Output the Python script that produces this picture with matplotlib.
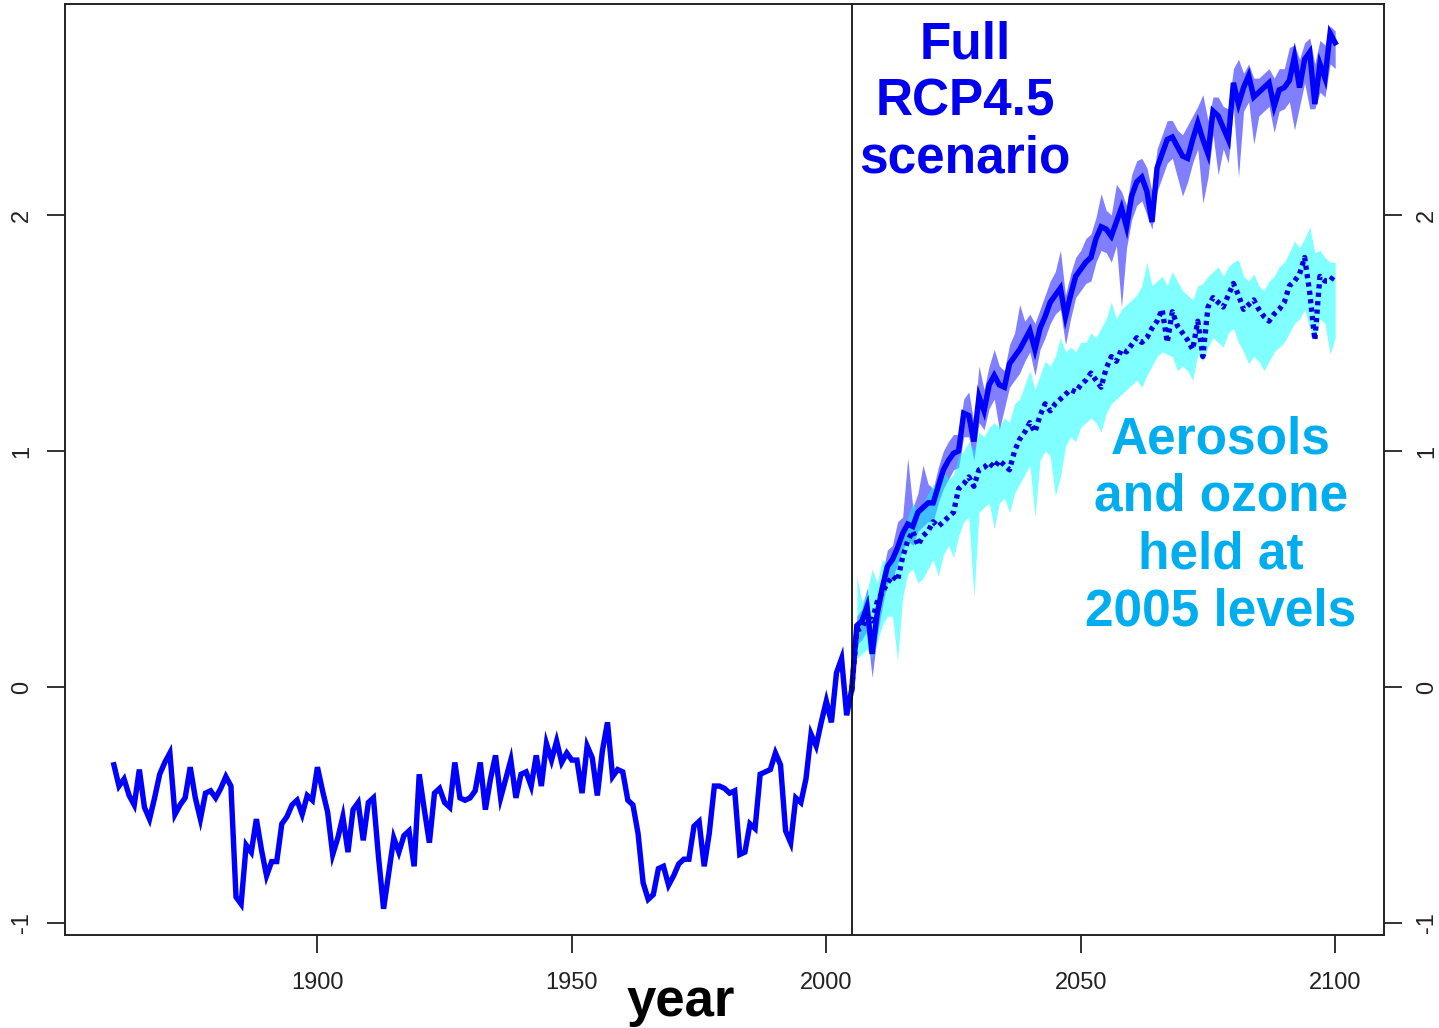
import numpy as np
import matplotlib
matplotlib.use("Agg")
import matplotlib.pyplot as plt

plt.rcParams["font.family"] = ["Liberation Sans", "DejaVu Sans"]

# observed / historical run, 1860-2005
hist_years = np.arange(1860, 2006)
hist_temp = [
    -0.33, -0.42, -0.39, -0.46, -0.50, -0.35, -0.51, -0.56, -0.47, -0.37,
    -0.32, -0.28, -0.54, -0.50, -0.47, -0.34, -0.47, -0.56, -0.45, -0.44,
    -0.47, -0.43, -0.38, -0.42, -0.89, -0.92, -0.67, -0.70, -0.56, -0.69,
    -0.80, -0.74, -0.74, -0.58, -0.55, -0.50, -0.48, -0.54, -0.46, -0.48,
    -0.34, -0.44, -0.53, -0.71, -0.64, -0.55, -0.70, -0.52, -0.49, -0.65,
    -0.49, -0.47, -0.72, -0.94, -0.79, -0.64, -0.70, -0.63, -0.61, -0.76,
    -0.37, -0.52, -0.66, -0.45, -0.43, -0.49, -0.51, -0.32, -0.47, -0.48,
    -0.47, -0.44, -0.32, -0.52, -0.39, -0.29, -0.47, -0.39, -0.31, -0.47,
    -0.37, -0.36, -0.42, -0.29, -0.42, -0.24, -0.31, -0.23, -0.32, -0.28,
    -0.31, -0.31, -0.45, -0.25, -0.30, -0.46, -0.27, -0.15, -0.38, -0.35,
    -0.36, -0.48, -0.50, -0.62, -0.83, -0.90, -0.88, -0.77, -0.76, -0.84,
    -0.80, -0.75, -0.73, -0.73, -0.59, -0.57, -0.76, -0.62, -0.42, -0.42,
    -0.43, -0.45, -0.44, -0.71, -0.70, -0.58, -0.60, -0.37, -0.36, -0.35,
    -0.28, -0.33, -0.61, -0.66, -0.47, -0.49, -0.39, -0.20, -0.25, -0.15,
    -0.06, -0.15, 0.06, 0.12, -0.12, -0.01,
]

# projections 2006-2100
proj_years = np.arange(2006, 2101)
full_mean = [
    0.26, 0.28, 0.34, 0.14, 0.31, 0.42, 0.51, 0.54, 0.59, 0.65,
    0.69, 0.68, 0.74, 0.76, 0.78, 0.78, 0.85, 0.92, 0.96, 0.99,
    1.00, 1.16, 1.15, 1.04, 1.23, 1.17, 1.28, 1.32, 1.28, 1.27,
    1.37, 1.40, 1.43, 1.47, 1.51, 1.43, 1.52, 1.57, 1.63, 1.66,
    1.69, 1.57, 1.66, 1.74, 1.77, 1.80, 1.82, 1.90, 1.95, 1.94,
    1.91, 1.97, 2.03, 1.95, 2.08, 2.14, 2.16, 2.10, 1.97, 2.20,
    2.26, 2.32, 2.33, 2.29, 2.25, 2.24, 2.32, 2.39, 2.32, 2.26,
    2.44, 2.42, 2.37, 2.32, 2.56, 2.47, 2.54, 2.59, 2.50, 2.52,
    2.54, 2.56, 2.46, 2.53, 2.54, 2.57, 2.67, 2.54, 2.66, 2.69,
    2.47, 2.64, 2.58, 2.77, 2.73,
]
full_upper = [
    0.30, 0.33, 0.42, 0.24, 0.38, 0.48, 0.58, 0.60, 0.70, 0.72,
    0.97, 0.76, 0.82, 0.94, 0.86, 0.84, 0.93, 1.00, 1.04, 1.07,
    1.07, 1.22, 1.25, 1.12, 1.36, 1.26, 1.36, 1.43, 1.36, 1.34,
    1.45, 1.50, 1.62, 1.55, 1.58, 1.54, 1.60, 1.66, 1.72, 1.76,
    1.85, 1.66, 1.75, 1.82, 1.85, 1.90, 1.92, 1.99, 2.09, 2.02,
    2.00, 2.13, 2.10, 2.04, 2.17, 2.23, 2.24, 2.20, 2.10, 2.28,
    2.34, 2.40, 2.40, 2.36, 2.34, 2.38, 2.42, 2.46, 2.51, 2.40,
    2.50, 2.50, 2.46, 2.45, 2.62, 2.66, 2.60, 2.64, 2.58, 2.58,
    2.60, 2.62, 2.58, 2.62, 2.62, 2.71, 2.72, 2.66, 2.73, 2.75,
    2.64, 2.74, 2.72, 2.80, 2.78,
]
full_lower = [
    0.18, 0.20, 0.24, 0.04, 0.22, 0.34, 0.44, 0.46, 0.52, 0.58,
    0.62, 0.60, 0.66, 0.68, 0.70, 0.70, 0.78, 0.84, 0.88, 0.92,
    0.93, 1.06, 1.06, 0.96, 1.12, 1.09, 1.18, 1.22, 1.09, 1.18,
    1.27, 1.30, 1.33, 1.38, 1.42, 1.32, 1.43, 1.48, 1.54, 1.58,
    1.60, 1.45, 1.56, 1.65, 1.68, 1.71, 1.72, 1.80, 1.85, 1.84,
    1.80, 1.87, 1.61, 1.86, 1.98, 2.04, 2.06, 2.00, 1.94, 2.10,
    2.16, 2.22, 2.24, 2.16, 2.08, 2.14, 2.22, 2.28, 2.05, 2.16,
    2.34, 2.17, 2.28, 2.22, 2.46, 2.16, 2.44, 2.48, 2.30, 2.42,
    2.44, 2.46, 2.35, 2.44, 2.45, 2.48, 2.36, 2.46, 2.56, 2.45,
    2.45, 2.52, 2.50, 2.64, 2.62,
]
aer_mean = [
    0.24, 0.25, 0.30, 0.28, 0.36, 0.40, 0.44, 0.47, 0.45, 0.55,
    0.62, 0.66, 0.60, 0.64, 0.66, 0.70, 0.68, 0.70, 0.72, 0.74,
    0.84, 0.86, 0.89, 0.85, 0.92, 0.93, 0.95, 0.93, 0.96, 0.94,
    0.92, 1.00, 1.05, 1.08, 1.12, 1.08, 1.15, 1.20, 1.17, 1.20,
    1.22, 1.24, 1.26, 1.25, 1.28, 1.30, 1.33, 1.30, 1.27, 1.35,
    1.40, 1.38, 1.43, 1.42, 1.45, 1.48, 1.46, 1.48, 1.52, 1.55,
    1.60, 1.46, 1.59, 1.53, 1.50, 1.47, 1.43, 1.55, 1.40, 1.61,
    1.65, 1.63, 1.61, 1.66, 1.71, 1.66, 1.60, 1.62, 1.64, 1.60,
    1.57, 1.55, 1.58, 1.60, 1.63, 1.70, 1.72, 1.75, 1.82, 1.67,
    1.47, 1.74, 1.72, 1.72, 1.75,
]
aer_upper = [
    0.47, 0.36, 0.40, 0.50, 0.44, 0.54, 0.52, 0.58, 0.56, 0.64,
    0.72, 0.78, 0.74, 0.78, 0.82, 0.86, 0.84, 0.92, 0.88, 0.90,
    0.98, 1.00, 1.04, 1.00, 1.08, 1.06, 1.10, 1.12, 1.10, 1.14,
    1.12, 1.20, 1.22, 1.28, 1.34, 1.26, 1.32, 1.38, 1.36, 1.40,
    1.48, 1.42, 1.44, 1.42, 1.46, 1.46, 1.50, 1.48, 1.52, 1.56,
    1.63, 1.56, 1.60, 1.62, 1.64, 1.66, 1.70, 1.80, 1.70, 1.72,
    1.74, 1.70, 1.76, 1.72, 1.68, 1.66, 1.64, 1.70, 1.71, 1.74,
    1.76, 1.78, 1.74, 1.78, 1.80, 1.81, 1.74, 1.72, 1.75, 1.70,
    1.68, 1.72, 1.74, 1.78, 1.80, 1.84, 1.89, 1.86, 1.90, 1.95,
    1.84, 1.85, 1.82, 1.80, 1.80,
]
aer_lower = [
    0.12, 0.14, 0.16, 0.12, 0.19, 0.26, 0.30, 0.30, 0.11, 0.38,
    0.48, 0.50, 0.44, 0.46, 0.50, 0.54, 0.47, 0.56, 0.60, 0.55,
    0.64, 0.70, 0.72, 0.38, 0.74, 0.76, 0.78, 0.67, 0.78, 0.80,
    0.74, 0.82, 0.86, 0.90, 0.94, 0.72, 0.96, 1.00, 0.98, 0.81,
    0.89, 1.02, 1.06, 1.04, 1.10, 1.12, 1.14, 1.12, 1.08, 1.16,
    1.20, 1.22, 1.24, 1.26, 1.28, 1.30, 1.27, 1.32, 1.36, 1.40,
    1.42, 1.41, 1.40, 1.34, 1.36, 1.34, 1.30, 1.41, 1.38, 1.44,
    1.48, 1.46, 1.44, 1.50, 1.52, 1.46, 1.42, 1.37, 1.40, 1.38,
    1.34, 1.38, 1.42, 1.44, 1.46, 1.50, 1.54, 1.56, 1.60, 1.52,
    1.47, 1.56, 1.54, 1.41, 1.48,
]

xticks = [1900, 1950, 2000, 2050, 2100]
yticks = [-1, 0, 1, 2]
split_year = 2005

fig = plt.figure(figsize=(14.39, 10.28), dpi=100)
ax = fig.add_axes([0.0452, 0.0905, 0.9166, 0.9056])

# join the projections onto the last historical year
yrs_f = np.concatenate([[hist_years[-1]], proj_years])
full_line = np.concatenate([[hist_temp[-1]], full_mean])
aer_line = np.concatenate([[hist_temp[-1]], aer_mean])

ax.fill_between(proj_years, full_lower, full_upper, color="#0000ff", alpha=0.5, lw=0)
ax.plot(hist_years, hist_temp, color="#0000ff", lw=3.9, solid_joinstyle="miter")
ax.plot(yrs_f, full_line, color="#0000ff", lw=3.9, solid_joinstyle="miter")
ax.fill_between(proj_years, aer_lower, aer_upper, color="#00ffff", alpha=0.5, lw=0)
ax.plot(yrs_f, aer_line, color="#0000dd", lw=3.8, linestyle=(0, (0.8, 0.8)))

ax.axvline(split_year, color="black", lw=1.2)

ax.set_xlim(1850.4, 2109.6)
ax.set_ylim(-1.051, 2.894)
ax.set_xticks(xticks)
ax.set_yticks(yticks)
ax.set_xticklabels([str(t) for t in xticks])
ax.set_yticklabels([str(t) for t in yticks])

ax.tick_params(axis="x", direction="out", length=13, width=1.3, pad=14,
               labelsize=17, colors="#222222")
ax.tick_params(axis="y", direction="out", length=13, width=1.3, pad=10,
               labelsize=17, colors="#222222", labelrotation=90,
               right=True, labelright=True)
for lab in ax.get_yticklabels():
    lab.set_va("center")
for sp in ax.spines.values():
    sp.set_linewidth(1.4)
    sp.set_color("#222222")

fig.text(681 / 1439, 1 - 1002 / 1028, "year", ha="center", va="center",
         fontsize=38, fontweight="bold", color="black")

full_lines = ["Full", "RCP4.5", "scenario"]
for i, s in enumerate(full_lines):
    fig.text(965 / 1439, 1 - (45 + 57 * i) / 1028, s, ha="center", va="center",
             fontsize=37, fontweight="bold", color="#0000ee")

aer_lines = ["Aerosols", "and ozone", "held at", "2005 levels"]
for i, s in enumerate(aer_lines):
    fig.text(1221 / 1439, 1 - (440 + 57.3 * i) / 1028, s, ha="center", va="center",
             fontsize=37, fontweight="bold", color="#00aeef")

fig.savefig("out.png", dpi=100)
